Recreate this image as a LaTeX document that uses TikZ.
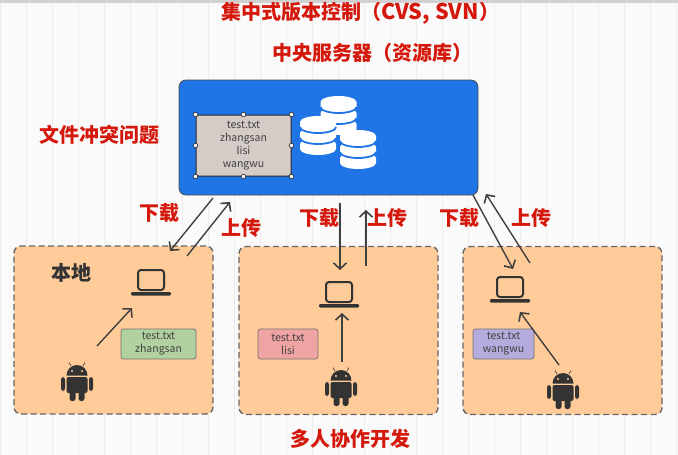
\documentclass[tikz,border=0pt]{standalone}
\usepackage{fontspec}
\setmainfont{Noto Sans CJK SC}
\usetikzlibrary{arrows.meta}
\definecolor{serverblue}{HTML}{1F74E6}
\definecolor{localfill}{HTML}{FFCC99}
\definecolor{darkicon}{HTML}{333333}
\definecolor{redtext}{HTML}{D4180C}
\definecolor{repofill}{HTML}{D5CCC8}
\definecolor{greenfill}{HTML}{B2D1A0}
\definecolor{redfill}{HTML}{F0A3A3}
\definecolor{purplefill}{HTML}{B5ABDD}
\tikzset{
    >={Straight Barb[length=6pt,width=13pt,line width=1.6pt]},
    redlabel/.style={text=redtext, font=\fontsize{20}{22}\selectfont\bfseries, inner sep=0pt},
    localbox/.style={draw=black!60, fill=localfill, line width=1.4pt, dash pattern=on 6pt off 3.5pt, rounded corners=7pt, minimum width=199pt, minimum height=168pt, inner sep=0pt},
    notebox/.style={draw=black!55, line width=0.8pt, rounded corners=2.5pt, align=center, text=black!75, inner sep=0pt, minimum height=30pt, font=\fontsize{10.5}{13}\selectfont},
    flow/.style={draw=black!75, line width=1.4pt, ->},
    handle/.style={circle, draw=black!80, fill=white, line width=0.7pt, minimum size=4.5pt, inner sep=0pt},
    laptop/.pic={
        \draw[darkicon, line width=2pt, rounded corners=3pt] (-13,-13) rectangle (13,7);
        \fill[darkicon, rounded corners=1.2pt] (-20,9) rectangle (20,12.5);
    },
    android/.pic={
        \fill[darkicon] (-10.5,-6.5) arc (180:360:10.5) -- cycle;
        \fill[darkicon, rounded corners=2pt] (-10.5,-5) rectangle (10.5,11);
        \fill[darkicon, rounded corners=2.5pt] (-16,-5) rectangle (-12,9);
        \fill[darkicon, rounded corners=2.5pt] (12,-5) rectangle (16,9);
        \fill[darkicon, rounded corners=2.5pt] (-7.5,8) rectangle (-1.5,19);
        \fill[darkicon, rounded corners=2.5pt] (1.5,8) rectangle (7.5,19);
        \fill[localfill] (-5,-11) circle[radius=1.1];
        \fill[localfill] (5,-11) circle[radius=1.1];
        \draw[darkicon, line width=0.6pt] (-6,-16) -- (-8,-19.5);
        \draw[darkicon, line width=0.6pt] (6,-16) -- (8,-19.5);
    },
    dbstack/.pic={
        \foreach \ypos in {22,11,0}{
            \fill[white] (-18,\ypos+6) -- (-18,\ypos+11) arc (180:0:18 and 6) -- (18,\ypos+6) arc (0:-180:18 and 6) -- cycle;
            \ifnum\ypos<22
                \draw[serverblue, line width=1.8pt] (-18,\ypos+11) arc (180:0:18 and 6);
            \fi
        }
    },
}
\begin{document}
\begin{tikzpicture}[x=1pt, y=-1pt]
    \useasboundingbox (0,0) rectangle (678,455);
    \fill[black!2] (0,0) rectangle (678,455);
    \draw[black!7, line width=0.5pt] (0,0) grid[step=26] (678,455);
    \fill[black!18] (0,0) rectangle (678,2.5);

    \node[redlabel, anchor=west] (title) at (221,13) {集中式版本控制（{\fontsize{21.5}{22}\selectfont CVS, SVN}）};
    \node[redlabel] (servertitle) at (372,53) {中央服务器（资源库）};
    \node[redlabel] (conflict) at (99,135) {文件冲突问题};
    \node[redlabel] (teamwork) at (350,439) {多人协作开发};

    \node[draw=black!70, fill=serverblue, line width=0.8pt, rounded corners=7pt, minimum width=299pt, minimum height=115pt, inner sep=0pt] (server) at (328.5,137.5) {};
    \node[notebox, fill=repofill, draw=black!85, line width=1pt, minimum width=95pt, minimum height=61pt] (repofile) at (243.5,145.5) {test.txt\\zhangsan\\lisi\\wangwu};
    \foreach \anchorname in {north west,north,north east,east,south east,south,south west,west}{
        \node[handle] at (repofile.\anchorname) {};
    }
    \pic (dbtop) at (338.5,96) {dbstack};
    \pic (dbleft) at (318,116) {dbstack};
    \pic (dbright) at (358,130) {dbstack};

    \node[localbox] (localA) at (113.5,330) {};
    \node[localbox] (localB) at (338.5,330.5) {};
    \node[localbox] (localC) at (562.5,330.5) {};

    \node[text=darkicon, font=\fontsize{20}{22}\selectfont\bfseries, inner sep=0pt] (here) at (71,273) {本地};

    \pic (lapA) at (151,283) {laptop};
    \pic (lapB) at (339,295) {laptop};
    \pic (lapC) at (510,290) {laptop};
    \pic (droidA) at (77,382) {android};
    \pic (droidB) at (341,387) {android};
    \pic (droidC) at (563,390) {android};

    \node[notebox, fill=greenfill, minimum width=75pt] (fileA) at (158.5,344) {test.txt\\zhangsan};
    \node[notebox, fill=redfill, minimum width=60pt] (fileB) at (288,344) {test.txt\\lisi};
    \node[notebox, fill=purplefill, minimum width=61pt] (fileC) at (503.5,344) {test.txt\\wangwu};

    \coordinate (downAs) at (213,198);
    \coordinate (downAe) at (170,251);
    \coordinate (upAs) at (187,256);
    \coordinate (upAe) at (230,202);
    \coordinate (downBs) at (340,203);
    \coordinate (downBe) at (340,270);
    \coordinate (upBs) at (366,266);
    \coordinate (upBe) at (366,210);
    \coordinate (downCs) at (473,195);
    \coordinate (downCe) at (513,269);
    \coordinate (upCs) at (530,263);
    \coordinate (upCe) at (486,194);
    \coordinate (pushAs) at (97,346);
    \coordinate (pushAe) at (132,308);
    \coordinate (pushBs) at (342,362);
    \coordinate (pushBe) at (342,313);
    \coordinate (pushCs) at (559,365);
    \coordinate (pushCe) at (520,312);

    \draw[flow] (downAs) -- (downAe);
    \draw[flow] (upAs) -- (upAe);
    \draw[flow] (downBs) -- (downBe);
    \draw[flow] (upBs) -- (upBe);
    \draw[flow] (downCs) -- (downCe);
    \draw[flow] (upCs) -- (upCe);
    \draw[flow] (pushAs) -- (pushAe);
    \draw[flow] (pushBs) -- (pushBe);
    \draw[flow] (pushCs) -- (pushCe);

    \node[redlabel] (downlabelA) at (159,213) {下载};
    \node[redlabel] (uplabelA) at (241,228) {上传};
    \node[redlabel] (downlabelB) at (319,218) {下载};
    \node[redlabel] (uplabelB) at (387,218) {上传};
    \node[redlabel] (downlabelC) at (459,218) {下载};
    \node[redlabel] (uplabelC) at (531,218) {上传};
\end{tikzpicture}
\end{document}
